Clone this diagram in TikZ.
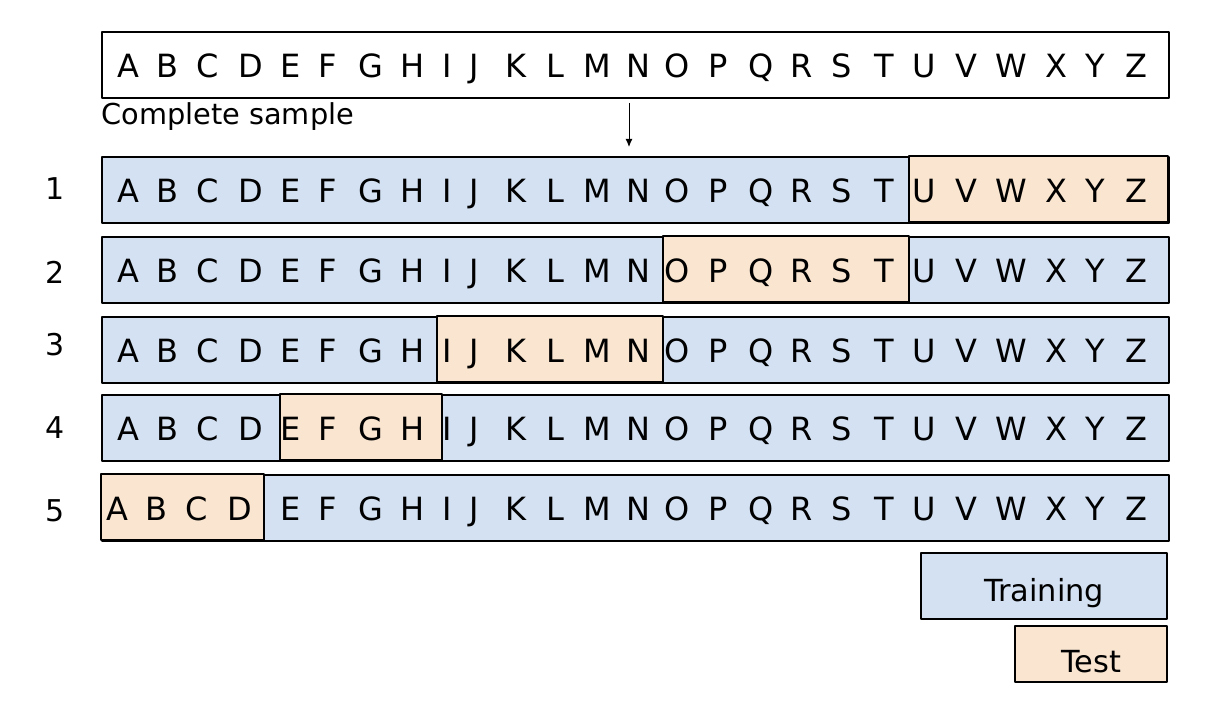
\documentclass[tikz,border=0pt]{standalone}
\usepackage{fontspec}
\setmainfont{DejaVu Sans}
\usepackage{tikz}
\usetikzlibrary{arrows.meta,calc}
\usetikzlibrary{positioning}
\definecolor{trainblue}{RGB}{212,225,242}
\definecolor{testtan}{RGB}{249,229,208}
\tikzset{rowbox/.style={draw,line width=0.8pt,fill=trainblue,inner sep=0pt,anchor=north west,minimum width=533.5pt,minimum height=33pt},
  testseg/.style={draw,line width=0.8pt,fill=testtan},
  letter/.style={anchor=base,inner sep=0pt,font=\fontsize{16}{19}\selectfont},
  rownum/.style={anchor=base,inner sep=0pt,font=\fontsize{15}{18}\selectfont}}

\begin{document}
\begin{tikzpicture}[x=0.5pt,y=-0.5pt,>=Stealth,line join=round]
\useasboundingbox (0,0) rectangle (1210,710);
% --- complete sample on top
\node[rowbox,fill=white] (full) at (101,31) {};
\foreach \l/\x in {A/128,B/167,C/208,D/251,E/291,F/328,G/371,H/413,I/447,J/474,K/516,L/555,M/597,N/638,O/677,P/718,Q/761,R/802,S/842,T/884,U/924,V/966,W/1011,X/1056,Y/1095,Z/1136}
  \node[letter] (top-\l) at (\x,78) {\l};
\node[anchor=base west,inner sep=0pt,font=\fontsize{14.4}{17}\selectfont] (sample) at (101,125) {Complete sample};
\coordinate (arrtop) at (629,103); \coordinate (arrend) at (629,147);
\draw[-{Latex[length=4pt,width=3.5pt]},line width=0.5pt] (arrtop) -- (arrend);
% --- five splits, test part in tan
\foreach \r/\t/\a/\b in {1/156/909/1168,2/236/663/909,3/316/437/663,4/394/280/442,5/474/101/264}{
  \node[rowbox] (row\r) at (101,\t) {};
  \draw[testseg] (\a,\t) rectangle (\b,\t+66);
}
\foreach \r/\yb/\nb in {1/203/200,2/282.5/284,3/362.5/356,4/441/439,5/521/522}{
  \node[rownum] (num\r) at (55,\nb) {\r};
  \foreach \l/\x in {A/128,B/167,C/208,D/251,E/291,F/328,G/371,H/413,I/447,J/474,K/516,L/555,M/597,N/638,O/677,P/718,Q/761,R/802,S/842,T/884,U/924,V/966,W/1011,X/1056,Y/1095,Z/1136}{
    \pgfmathsetmacro{\xx}{(\r==5 && \x<260) ? \x-11 : \x}
    \node[letter] (r\r-\l) at (\xx,\yb) {\l};
  }
}
% --- legend
\node[draw,line width=0.8pt,fill=trainblue,minimum width=123pt,minimum height=33pt,inner sep=0pt] (train) at (1044,586) {};
\node[anchor=base,inner sep=0pt,font=\fontsize{15.2}{18}\selectfont] (trainlab) at (train.center |- 0,602) {Training};
\node[draw,line width=0.8pt,fill=testtan,minimum width=76pt,minimum height=28pt,inner sep=0pt] (test) at (1091,654) {};
\node[anchor=base,inner sep=0pt,font=\fontsize{15.2}{18}\selectfont] (testlab) at (test.center |- 0,672) {Test};
\end{tikzpicture}
\end{document}
